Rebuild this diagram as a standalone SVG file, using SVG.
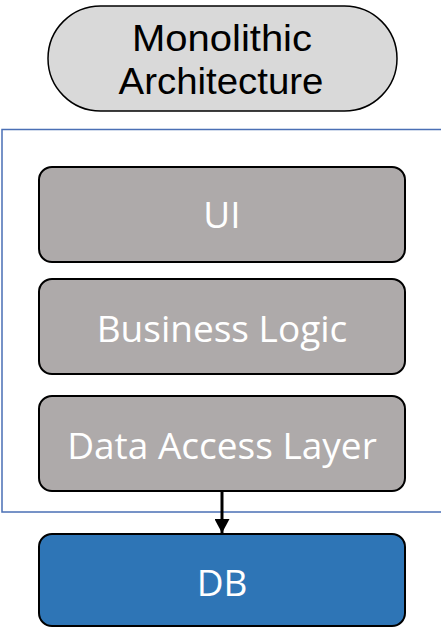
<svg xmlns="http://www.w3.org/2000/svg" width="441" height="629" viewBox="0 0 441 629">
<style>
.layer{fill:#aeaaaa;stroke:#000;stroke-width:2}
.lbl{font-family:"Open Sans","Noto Sans",sans-serif;font-size:37px;text-anchor:middle}
.ttl{font-family:"Liberation Sans",Arial,sans-serif;font-size:37px;text-anchor:middle;fill:#000}
.w{fill:#fff}
</style>
<defs>
<marker id="ah" markerWidth="15" markerHeight="15" refX="14" refY="7.5" orient="auto" markerUnits="userSpaceOnUse">
<path d="M0,0 L14,7.5 L0,15 Z" fill="#000"/>
</marker>
</defs>
<rect width="441" height="629" fill="#fff"/>
<g id="title">
<rect x="48" y="6" width="349" height="105" rx="52.5" ry="52.5" fill="#d9d9d9" stroke="#000" stroke-width="1.5"/>
<text class="ttl" x="222" y="51" textLength="180" lengthAdjust="spacingAndGlyphs">Monolithic</text>
<text class="ttl" x="221" y="94" textLength="205" lengthAdjust="spacingAndGlyphs">Architecture</text>
</g>
<g id="container">
<rect x="2" y="129.5" width="460" height="382.5" fill="none" stroke="#4a6fb5" stroke-width="1.5"/>
</g>
<g id="ui">
<rect class="layer" x="39" y="167" width="366" height="95" rx="13"/>
<text class="lbl w" x="222" y="228">UI</text>
</g>
<g id="business">
<rect class="layer" x="39" y="279" width="366" height="95" rx="13"/>
<text class="lbl w" x="222" y="342">Business Logic</text>
</g>
<g id="dal">
<rect class="layer" x="39" y="396" width="366" height="95" rx="13"/>
<text class="lbl w" x="222" y="459">Data Access Layer</text>
</g>
<g id="db">
<rect x="39" y="534" width="366" height="92" rx="13" fill="#2e75b6" stroke="#000" stroke-width="2"/>
<text class="lbl w" x="222" y="596">DB</text>
</g>
<g id="connectors">
<line x1="222" y1="491" x2="222" y2="533" stroke="#000" stroke-width="3" marker-end="url(#ah)"/>
</g>
</svg>
